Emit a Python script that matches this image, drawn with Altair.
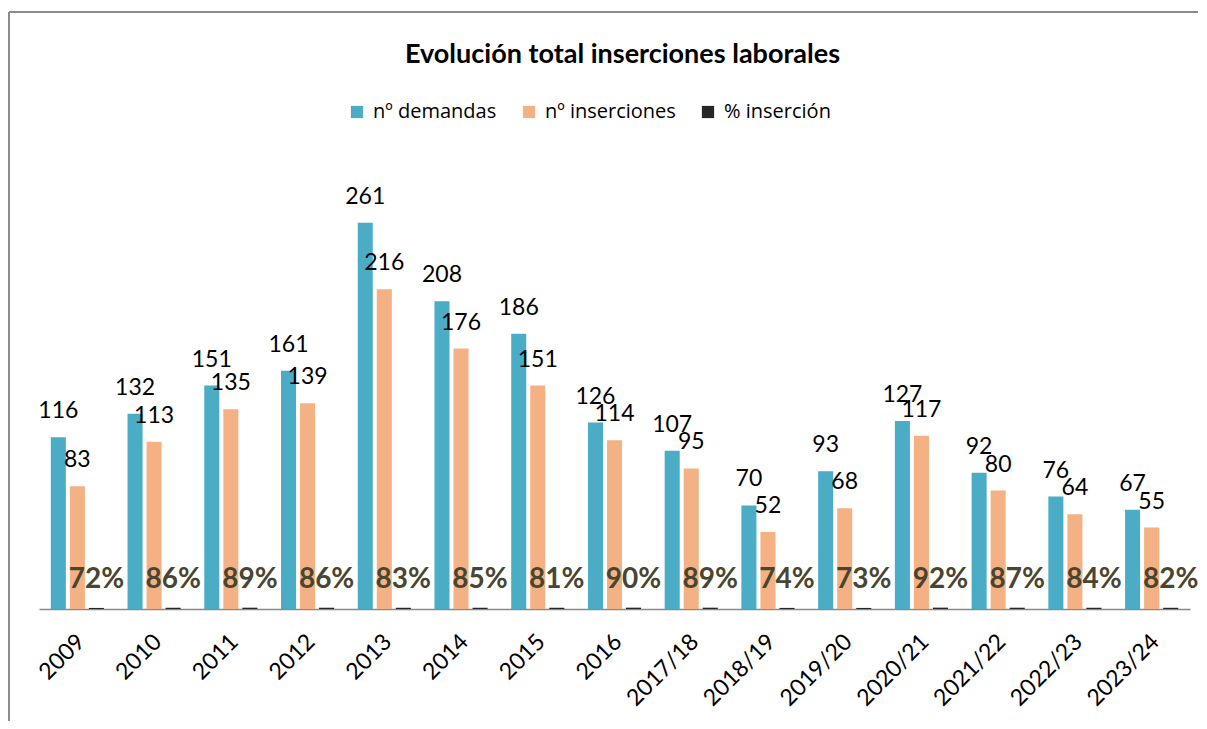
import altair as alt
import pandas as pd

years = ["2009", "2010", "2011", "2012", "2013", "2014", "2015", "2016",
         "2017/18", "2018/19", "2019/20", "2020/21", "2021/22", "2022/23", "2023/24"]
demandas = [116, 132, 151, 161, 261, 208, 186, 126, 107, 70, 93, 127, 92, 76, 67]
inserciones = [83, 113, 135, 139, 216, 176, 151, 114, 95, 52, 68, 117, 80, 64, 55]
pct_insercion = [72, 86, 89, 86, 83, 85, 81, 90, 89, 74, 73, 92, 87, 84, 82]

series = ["nº demandas", "nº inserciones", "% inserción"]
colors = ["#4BACC6", "#F4B183", "#262626"]

rows = []
for i, yr in enumerate(years):
    rows.append({"year": yr, "serie": series[0], "value": demandas[i],
                 "label": str(demandas[i]), "kind": "n"})
    rows.append({"year": yr, "serie": series[1], "value": inserciones[i],
                 "label": str(inserciones[i]), "kind": "n"})
    rows.append({"year": yr, "serie": series[2], "value": pct_insercion[i] / 100,
                 "label": f"{pct_insercion[i]}%", "kind": "p"})
df = pd.DataFrame(rows)

FONT = "Lato"

x = alt.X("year:N", sort=years,
          scale=alt.Scale(paddingInner=0, paddingOuter=0),
          axis=alt.Axis(title=None, labelAngle=-45, labelFont=FONT, labelFontSize=23,
                        labelColor="black", ticks=False, labelPadding=21, labelOffset=-4,
                        domainColor="#898989", domainWidth=1.5, grid=False))
xo = alt.XOffset("serie:N", sort=series,
                 scale=alt.Scale(domain=series, paddingInner=0.21, paddingOuter=0.62))
y = alt.Y("value:Q", scale=alt.Scale(domain=[0, 300]), axis=None)

base = alt.Chart(df).encode(x=x, xOffset=xo, y=y)

bars = base.mark_bar().encode(
    color=alt.Color("serie:N", sort=series,
                    scale=alt.Scale(domain=series, range=colors),
                    legend=alt.Legend(title=None, orient="none", direction="horizontal",
                                      legendX=308, legendY=-63, symbolType="square",
                                      symbolSize=150, symbolStrokeWidth=0,
                                      labelFont="Open Sans", labelFontSize=20,
                                      labelColor="black", columnPadding=22,
                                      labelOffset=6, padding=0))
)

nlabels = base.transform_filter("datum.kind == 'n'").mark_text(
    baseline="alphabetic", dy=-19, font=FONT, fontSize=23, color="black"
).encode(text="label:N")

plabels = base.transform_filter("datum.kind == 'p'").mark_text(
    baseline="alphabetic", dy=-20, font=FONT, fontSize=28, fontWeight="bold",
    color="#4A4530"
).encode(text="label:N")

frame_df = pd.DataFrame({"f": [0]})
frame_top = alt.Chart(frame_df).mark_rule(color="#8C8C8C", strokeWidth=2).encode(
    x=alt.value(-30), x2=alt.value(1220), y=alt.value(-153))
frame_left = alt.Chart(frame_df).mark_rule(color="#8C8C8C", strokeWidth=2).encode(
    x=alt.value(-30), y=alt.value(-153), y2=alt.value(700))

chart = alt.layer(frame_top, frame_left, bars, nlabels, plabels).properties(
    width=1151, height=444,
    title=alt.TitleParams("Evolución total inserciones laborales", font=FONT,
                          fontSize=27, fontWeight="bold", color="black",
                          anchor="middle", dx=8, offset=-58),
    autosize=alt.AutoSizeParams(type="none"),
    padding={"left": 31, "top": 157, "right": 8, "bottom": 112},
).configure_view(stroke=None)

chart.save("out.html", embed_options={"renderer": "svg", "actions": False})
